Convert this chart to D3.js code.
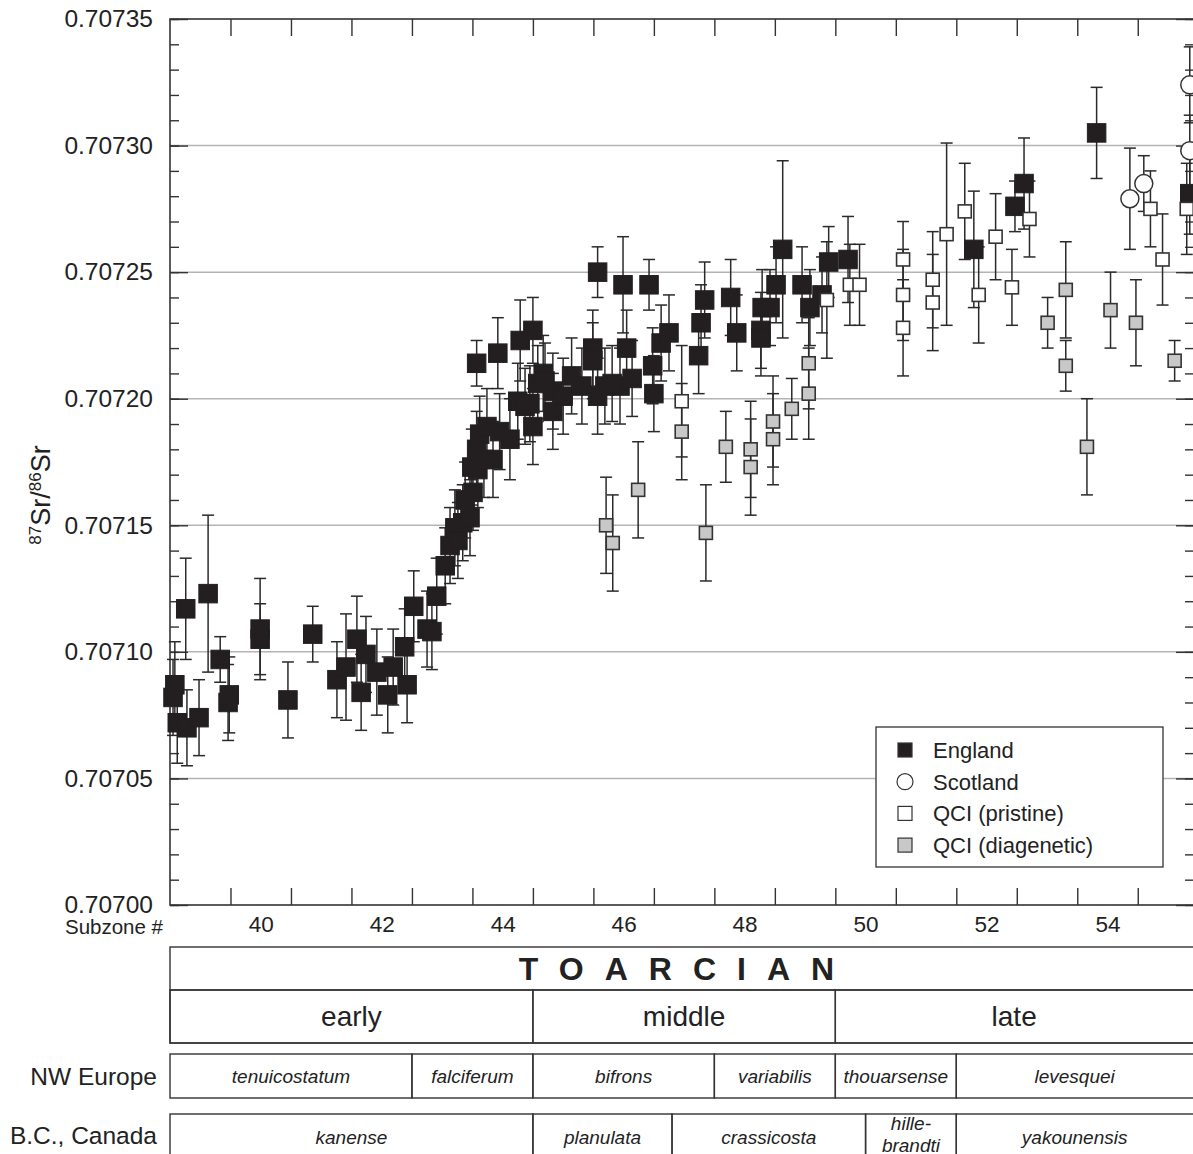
<!DOCTYPE html>
<html>
<head>
<meta charset="utf-8">
<script src="https://cdn.jsdelivr.net/npm/d3@7"></script>
<style>
  body { margin: 0; background: #fff; }
  svg { font-family: 'Liberation Sans', Arial, sans-serif; }
</style>
</head>
<body>
<div id="chart"></div>
<script>
// [subzone, 87Sr/86Sr, 2 sigma]
const england = [
  [38.58, 0.707087, 0.000017], [38.55, 0.707082, 0.000015], [38.62, 0.707072, 0.000016],
  [38.78, 0.707070, 0.000015], [38.76, 0.707117, 0.000020], [39.13, 0.707123, 0.000031],
  [38.98, 0.707074, 0.000015], [39.33, 0.707097, 0.000009], [39.48, 0.707083, 0.000015],
  [39.46, 0.707080, 0.000015], [39.99, 0.707109, 0.000020], [39.99, 0.707105, 0.000014],
  [40.45, 0.707081, 0.000015], [40.86, 0.707107, 0.000011], [41.26, 0.707089, 0.000015],
  [41.41, 0.707094, 0.000021], [41.59, 0.707105, 0.000017], [41.66, 0.707084, 0.000015],
  [41.74, 0.707099, 0.000015], [41.92, 0.707092, 0.000017], [42.10, 0.707083, 0.000015],
  [42.19, 0.707094, 0.000015], [42.38, 0.707102, 0.000015], [42.42, 0.707087, 0.000015],
  [42.53, 0.707118, 0.000014], [42.75, 0.707109, 0.000015], [42.91, 0.707122, 0.000015],
  [42.83, 0.707108, 0.000015], [43.05, 0.707134, 0.000015], [43.13, 0.707142, 0.000015],
  [43.21, 0.707149, 0.000015], [43.26, 0.707144, 0.000015], [43.34, 0.707151, 0.000015],
  [43.46, 0.707153, 0.000015], [43.51, 0.707163, 0.000015], [43.49, 0.707173, 0.000015],
  [43.59, 0.707172, 0.000015], [43.57, 0.707180, 0.000015], [43.62, 0.707186, 0.000015],
  [43.74, 0.707189, 0.000015], [43.84, 0.707176, 0.000015], [43.95, 0.707187, 0.000015],
  [44.12, 0.707184, 0.000016], [44.25, 0.707199, 0.000015], [44.37, 0.707197, 0.000015],
  [44.50, 0.707189, 0.000015], [43.57, 0.707214, 0.000009], [43.92, 0.707218, 0.000014],
  [44.29, 0.707223, 0.000016], [44.50, 0.707227, 0.000013], [44.58, 0.707206, 0.000015],
  [44.67, 0.707210, 0.000015], [44.83, 0.707203, 0.000015], [44.83, 0.707195, 0.000015],
  [45.00, 0.707201, 0.000015], [45.14, 0.707209, 0.000015], [45.31, 0.707205, 0.000015],
  [45.49, 0.707220, 0.000015], [45.49, 0.707215, 0.000015], [45.57, 0.707201, 0.000015],
  [45.57, 0.707250, 0.000010], [45.94, 0.707205, 0.000015], [45.99, 0.707245, 0.000019],
  [46.05, 0.707220, 0.000015], [46.14, 0.707208, 0.000015], [46.42, 0.707245, 0.000010],
  [46.48, 0.707213, 0.000015], [46.50, 0.707202, 0.000015], [46.62, 0.707222, 0.000015],
  [46.75, 0.707226, 0.000015], [47.24, 0.707217, 0.000015], [47.28, 0.707230, 0.000015],
  [47.34, 0.707239, 0.000015], [47.77, 0.707240, 0.000015], [47.87, 0.707226, 0.000015],
  [48.27, 0.707227, 0.000015], [48.27, 0.707224, 0.000015], [48.29, 0.707236, 0.000015],
  [48.42, 0.707236, 0.000015], [48.52, 0.707245, 0.000015], [48.63, 0.707259, 0.000035],
  [48.95, 0.707245, 0.000015], [49.08, 0.707236, 0.000015], [49.28, 0.707241, 0.000015],
  [49.39, 0.707254, 0.000014], [49.71, 0.707255, 0.000017], [51.79, 0.707259, 0.000023],
  [52.47, 0.707276, 0.000010], [52.62, 0.707285, 0.000018], [53.82, 0.707305, 0.000018],
  [55.36, 0.707281, 0.000016], [45.69, 0.707205, 0.000015], [45.81, 0.707206, 0.000015],
  [44.70, 0.707207, 0.000015], [44.45, 0.707198, 0.000015], [43.38, 0.707160, 0.000015],
  [43.69, 0.707176, 0.000015]
];

const scotland = [
  [54.37, 0.707279, 0.000020], [54.60, 0.707285, 0.000011],
  [55.36, 0.707324, 0.000015], [55.36, 0.707298, 0.000014]
];

const qciPristine = [
  [46.96, 0.707199, 0.000022], [49.36, 0.707239, 0.000023], [49.74, 0.707245, 0.000016],
  [49.90, 0.707245, 0.000016], [50.62, 0.707255, 0.000015], [50.62, 0.707241, 0.000018],
  [50.62, 0.707228, 0.000019], [51.11, 0.707247, 0.000019], [51.11, 0.707238, 0.000019],
  [51.34, 0.707265, 0.000036], [51.64, 0.707274, 0.000019], [51.87, 0.707241, 0.000019],
  [52.15, 0.707264, 0.000017], [52.42, 0.707244, 0.000015], [52.71, 0.707271, 0.000015],
  [54.71, 0.707275, 0.000015], [54.91, 0.707255, 0.000018], [55.31, 0.707275, 0.000018]
];

const qciDiagenetic = [
  [45.71, 0.707150, 0.000019], [45.82, 0.707143, 0.000019], [46.24, 0.707164, 0.000019],
  [46.96, 0.707187, 0.000019], [47.36, 0.707147, 0.000019], [47.69, 0.707181, 0.000014],
  [48.10, 0.707180, 0.000019], [48.10, 0.707173, 0.000019], [48.47, 0.707191, 0.000018],
  [48.47, 0.707184, 0.000018], [48.78, 0.707196, 0.000012], [49.06, 0.707214, 0.000018],
  [49.06, 0.707202, 0.000018], [53.01, 0.707230, 0.000010], [53.31, 0.707243, 0.000019],
  [53.31, 0.707213, 0.000010], [53.66, 0.707181, 0.000019], [54.05, 0.707235, 0.000015],
  [54.47, 0.707230, 0.000017], [55.11, 0.707215, 0.000008]
];

const subzoneLabels = [40, 42, 44, 46, 48, 50, 52, 54];
const stages = [['early', 38.5, 44.5], ['middle', 44.5, 49.5], ['late', 49.5, 55.6]];
const nwEurope = [['tenuicostatum', 38.5, 42.5], ['falciferum', 42.5, 44.5], ['bifrons', 44.5, 47.5],
  ['variabilis', 47.5, 49.5], ['thouarsense', 49.5, 51.5], ['levesquei', 51.5, 55.6]];
const bcCanada = [['kanense', 38.5, 44.5], ['planulata', 44.5, 46.8], ['crassicosta', 46.8, 50.0],
  ['hille-|brandti', 50.0, 51.5], ['yakounensis', 51.5, 55.6]];

const W = 1193, H = 1154;
const svg = d3.select('#chart').append('svg').attr('width', W).attr('height', H);

const x = d3.scaleLinear().domain([38.5, 55.43]).range([170, 1194]);
const y = d3.scaleLinear().domain([0.70700, 0.70735]).range([905, 19]);
const fmt = d3.format('.5f');

const majorY = d3.range(0, 8).map(i => 0.70700 + i * 0.00005);
const minorY = d3.range(0, 36).map(i => 0.70700 + i * 0.00001);
const bounds = d3.range(39.5, 55.5, 1);

// gridlines
svg.append('g').selectAll('line').data(majorY.slice(1, -1)).join('line')
  .attr('x1', x.range()[0]).attr('x2', x.range()[1])
  .attr('y1', d => y(d)).attr('y2', d => y(d))
  .attr('stroke', '#b4b4b4').attr('stroke-width', 1.5);

function styleAxis(size) {
  return function(g) {
    g.select('.domain').remove();
    g.selectAll('line').attr('stroke', '#333').attr('stroke-width', 1.4);
    g.selectAll('text').attr('fill', '#222').style('font-size', size + 'px')
      .style('font-family', "'Liberation Sans', Arial, sans-serif");
  };
}

svg.append('g').attr('transform', 'translate(170,0)')
  .call(d3.axisLeft(y).tickValues(minorY).tickSize(-9).tickFormat(''))
  .call(styleAxis(22));
svg.append('g').attr('transform', 'translate(170,0)')
  .call(d3.axisLeft(y).tickValues(majorY).tickSize(-18).tickPadding(17).tickFormat(fmt))
  .call(styleAxis(24.5));
svg.append('g').attr('transform', 'translate(1194,0)')
  .call(d3.axisRight(y).tickValues(minorY).tickSize(-9).tickFormat(''))
  .call(styleAxis(22));
svg.append('g').attr('transform', 'translate(1194,0)')
  .call(d3.axisRight(y).tickValues(majorY).tickSize(-18).tickFormat(''))
  .call(styleAxis(22));
svg.append('g').attr('transform', 'translate(0,905)')
  .call(d3.axisBottom(x).tickValues(bounds).tickSize(-17).tickFormat(''))
  .call(styleAxis(22));
svg.append('g').attr('transform', 'translate(0,19)')
  .call(d3.axisTop(x).tickValues(bounds).tickSize(-17).tickFormat(''))
  .call(styleAxis(22));
svg.append('g').attr('transform', 'translate(0,905)')
  .call(d3.axisBottom(x).tickValues(subzoneLabels).tickSize(0).tickPadding(11).tickFormat(d3.format('d')))
  .call(styleAxis(22.5));

svg.append('text').attr('x', 163).attr('y', 934).attr('text-anchor', 'end')
  .style('font-size', '20.5px').attr('fill', '#222').text('Subzone #');

// frame
svg.append('rect').attr('x', 170).attr('y', 19).attr('width', 1024).attr('height', 886)
  .attr('fill', 'none').attr('stroke', '#333').attr('stroke-width', 1.6);

// y title
const yt = svg.append('text').attr('transform', 'translate(50,495) rotate(-90)')
  .attr('text-anchor', 'middle').style('font-size', '27px').attr('fill', '#222');
yt.append('tspan').attr('baseline-shift', 'super').style('font-size', '17px').text('87');
yt.append('tspan').text('Sr/');
yt.append('tspan').attr('baseline-shift', 'super').style('font-size', '17px').text('86');
yt.append('tspan').text('Sr');

// error bars
function errBars(data, cap) {
  const g = svg.append('g').attr('stroke', '#2a2a2a').attr('stroke-width', 1.5);
  data.forEach(d => {
    const px = x(d[0]), top = y(d[1] + d[2]), bot = y(d[1] - d[2]);
    g.append('line').attr('x1', px).attr('x2', px).attr('y1', top).attr('y2', bot);
    g.append('line').attr('x1', px - cap).attr('x2', px + cap).attr('y1', top).attr('y2', top);
    g.append('line').attr('x1', px - cap).attr('x2', px + cap).attr('y1', bot).attr('y2', bot);
  });
}
errBars(england, 6);
errBars(qciDiagenetic, 6);
errBars(qciPristine, 6);
errBars(scotland, 6);

function squares(data, s, fill, stroke, sw) {
  svg.append('g').selectAll('rect').data(data).join('rect')
    .attr('x', d => x(d[0]) - s / 2).attr('y', d => y(d[1]) - s / 2)
    .attr('width', s).attr('height', s)
    .attr('fill', fill).attr('stroke', stroke).attr('stroke-width', sw);
}
squares(england, 18.5, '#231f20', '#231f20', 1);
squares(qciDiagenetic, 13, '#c8c8c8', '#333', 1.6);
squares(qciPristine, 13, '#fff', '#333', 1.6);
svg.append('g').selectAll('circle').data(scotland).join('circle')
  .attr('cx', d => x(d[0])).attr('cy', d => y(d[1])).attr('r', 9)
  .attr('fill', '#fff').attr('stroke', '#333').attr('stroke-width', 1.5);

// legend
const lg = svg.append('g').attr('transform', 'translate(876,727)');
lg.append('rect').attr('width', 287).attr('height', 140)
  .attr('fill', '#fff').attr('stroke', '#333').attr('stroke-width', 1.3);
const legendItems = [
  ['England', 'sq', '#231f20'], ['Scotland', 'ci', '#fff'],
  ['QCI (pristine)', 'sq', '#fff'], ['QCI (diagenetic)', 'sq', '#c8c8c8']
];
legendItems.forEach((it, i) => {
  const cy = 23 + i * 31.7;
  if (it[1] === 'sq') {
    lg.append('rect').attr('x', 22).attr('y', cy - 7).attr('width', 14).attr('height', 14)
      .attr('fill', it[2]).attr('stroke', '#333').attr('stroke-width', 1.2);
  } else {
    lg.append('circle').attr('cx', 29).attr('cy', cy).attr('r', 8)
      .attr('fill', it[2]).attr('stroke', '#333').attr('stroke-width', 1.2);
  }
  lg.append('text').attr('x', 57).attr('y', cy + 8).style('font-size', '22px')
    .attr('fill', '#222').text(it[0]);
});

// stratigraphy table
const tbl = svg.append('g').attr('fill', 'none').attr('stroke', '#333').attr('stroke-width', 1.4);
const xr = x(55.6);
tbl.append('rect').attr('x', 170).attr('y', 947).attr('width', xr - 170).attr('height', 96);
tbl.append('line').attr('x1', 170).attr('x2', xr).attr('y1', 990).attr('y2', 990);

svg.append('text').attr('x', 687).attr('y', 980).attr('text-anchor', 'middle')
  .style('font-size', '32px').style('font-weight', 'bold').style('letter-spacing', '21px')
  .attr('fill', '#222').text('TOARCIAN');

function row(cells, top, h, size, italic) {
  cells.forEach(c => {
    const x0 = x(c[1]), x1 = Math.min(x(c[2]), xr);
    tbl.append('rect').attr('x', x0).attr('y', top).attr('width', x1 - x0).attr('height', h);
    const lines = c[0].split('|');
    const cx = (x0 + Math.min(x1, W)) / 2;
    const t = svg.append('text').attr('text-anchor', 'middle').attr('fill', '#222')
      .style('font-size', size + 'px').style('font-style', italic ? 'italic' : 'normal');
    if (lines.length === 1) {
      t.attr('x', cx).attr('y', top + h / 2 + size * 0.35).text(lines[0]);
    } else {
      lines.forEach((l, i) => {
        t.append('tspan').attr('x', cx).attr('y', top + 16 + i * 22).text(l);
      });
    }
  });
}
row(stages, 990, 53, 28, false);
row(nwEurope, 1054, 44, 19, true);
row(bcCanada, 1114, 46, 19, true);

svg.append('text').attr('x', 157).attr('y', 1085).attr('text-anchor', 'end')
  .style('font-size', '24.5px').attr('fill', '#222').text('NW Europe');
svg.append('text').attr('x', 157).attr('y', 1144).attr('text-anchor', 'end')
  .style('font-size', '24.5px').attr('fill', '#222').text('B.C., Canada');
</script>
</body>
</html>
